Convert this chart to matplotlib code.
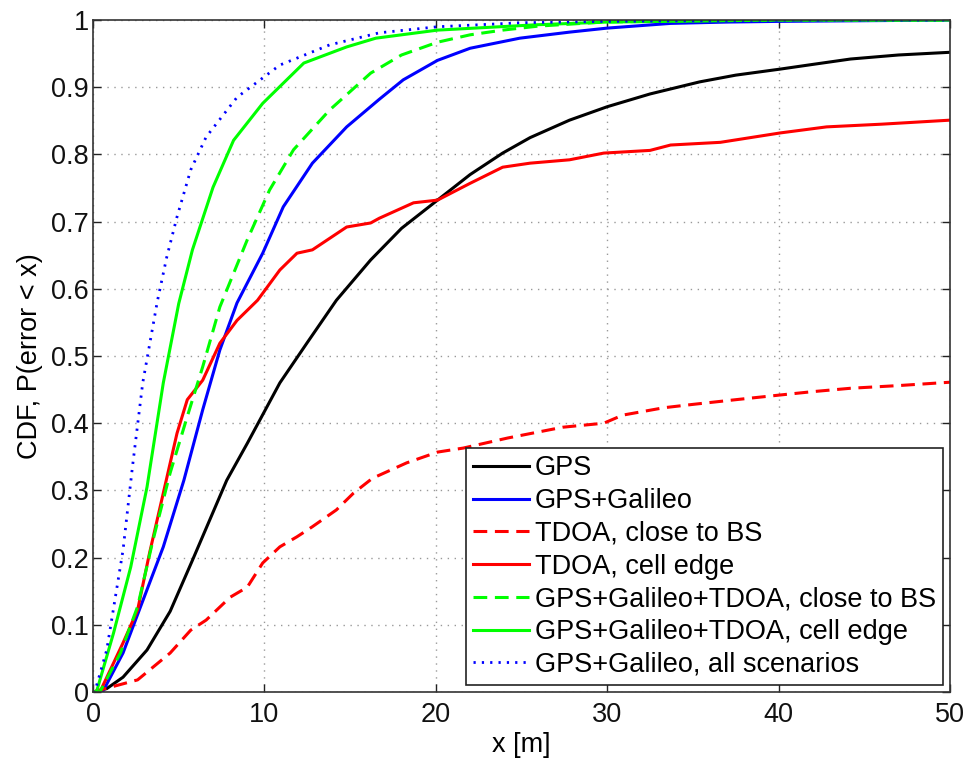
"""
CDF of positioning error: GPS / Galileo / TDOA combinations
"""

import matplotlib
matplotlib.use('Agg')
import matplotlib.pyplot as plt
from matplotlib import rcParams

rcParams['font.family'] = ['Liberation Sans', 'DejaVu Sans']
rcParams['font.size'] = 19.5

C_BLACK = '#000000'
C_BLUE = '#0000ff'
C_RED = '#ff0000'
C_GREEN = '#00ff00'

# ── data (x in metres, CDF value) ──
gps_x = [0, 0.8, 1.75, 3.15, 4.5, 5.8, 7.8, 9, 10.9, 12.5, 14.2, 16.2, 18, 20.1, 22,
         23.9, 25.5, 27.8, 30, 32.5, 35.4, 37.5, 40.1, 42, 44.2, 47, 50]
gps_y = [0, 0.005, 0.022, 0.0625, 0.12, 0.196, 0.315, 0.37, 0.46, 0.52, 0.583, 0.643,
         0.69, 0.732, 0.77, 0.802, 0.825, 0.851, 0.871, 0.89, 0.908, 0.918, 0.927,
         0.934, 0.942, 0.948, 0.952]

gal_x = [0, 0.6, 1.75, 2.7, 4.1, 5.3, 6.4, 7.4, 8.4, 9.9, 11.1, 12.8, 14.8, 16.7, 18.1,
         20.1, 22, 24.9, 27.8, 30, 33.7, 37, 40, 45, 50]
gal_y = [0, 0.002, 0.058, 0.122, 0.216, 0.315, 0.42, 0.509, 0.579, 0.653, 0.722, 0.787,
         0.841, 0.882, 0.911, 0.940, 0.958, 0.973, 0.982, 0.988, 0.995, 0.997, 0.998,
         0.999, 1.0]

tdoa_bs_x = [0, 1.0, 2.6, 4.5, 5.7, 6.6, 8.0, 9.0, 9.9, 10.9, 11.9, 12.8, 14.2, 15.2,
             16.3, 18.3, 20.1, 21.6, 24.2, 27.4, 29.8, 30.9, 33.3, 35, 37.5, 40.1, 42,
             44.2, 47, 50]
tdoa_bs_y = [0, 0.007, 0.018, 0.058, 0.092, 0.107, 0.141, 0.156, 0.192, 0.216, 0.231,
             0.246, 0.271, 0.296, 0.318, 0.341, 0.357, 0.363, 0.378, 0.394, 0.40, 0.412,
             0.423, 0.428, 0.435, 0.442, 0.447, 0.452, 0.456, 0.461]

tdoa_edge_x = [0, 0.4, 1.75, 2.6, 3.3, 4.1, 4.9, 5.5, 6.4, 7.4, 8.4, 9.6, 10.9, 11.9,
               12.8, 14.8, 16.2, 16.7, 18.7, 20.1, 22, 23.9, 25.5, 27.8, 29.8, 32.5,
               33.7, 36.6, 40.1, 42.8, 46, 50]
tdoa_edge_y = [0, 0, 0.073, 0.122, 0.207, 0.296, 0.385, 0.435, 0.464, 0.519, 0.553,
               0.583, 0.628, 0.653, 0.658, 0.692, 0.698, 0.705, 0.728, 0.732, 0.757,
               0.781, 0.787, 0.792, 0.802, 0.806, 0.814, 0.818, 0.832, 0.841, 0.845,
               0.851]

hyb_bs_x = [0, 0.4, 1.6, 2.6, 3.5, 4.5, 5.5, 6.4, 7.4, 9.0, 10.3, 11.7, 13.8, 16.2, 18,
            20.1, 22, 23.9, 26, 29.8, 35, 40, 50]
hyb_bs_y = [0, 0, 0.058, 0.127, 0.226, 0.326, 0.41, 0.484, 0.573, 0.673, 0.747, 0.807,
            0.866, 0.921, 0.948, 0.967, 0.978, 0.985, 0.991, 0.997, 0.999, 1.0, 1.0]

hyb_edge_x = [0, 0.2, 1.2, 2.2, 3.15, 4.1, 5.0, 5.8, 7.0, 8.2, 9.9, 12.3, 14.8, 16.5,
              20.1, 25.9, 30, 40, 50]
hyb_edge_y = [0, 0, 0.088, 0.186, 0.305, 0.46, 0.578, 0.658, 0.751, 0.821, 0.876,
              0.936, 0.96, 0.973, 0.985, 0.993, 0.997, 1.0, 1.0]

all_x = [0, 0.1, 0.8, 1.75, 2.3, 2.9, 3.75, 4.3, 4.9, 5.7, 6.6, 8.4, 10.9, 13.8, 16.7,
         20.1, 25, 30, 40, 50]
all_y = [0, 0, 0.0625, 0.211, 0.335, 0.46, 0.581, 0.647, 0.707, 0.777, 0.826, 0.885,
         0.933, 0.963, 0.981, 0.99, 0.996, 0.998, 1.0, 1.0]

x_ticks = [0, 10, 20, 30, 40, 50]
y_ticks = [0, 0.1, 0.2, 0.3, 0.4, 0.5, 0.6, 0.7, 0.8, 0.9, 1]
y_tick_labels = ['0', '0.1', '0.2', '0.3', '0.4', '0.5', '0.6', '0.7', '0.8', '0.9', '1']


fig = plt.figure(figsize=(9.68, 7.59), dpi=100)
ax = fig.add_axes([0.0961, 0.0883, 0.8853, 0.8853])

LW = 2.2
DASH = (0, (4.5, 2.5))
ax.plot(gps_x, gps_y, '-', color=C_BLACK, lw=LW, label='GPS')
ax.plot(gal_x, gal_y, '-', color=C_BLUE, lw=LW, label='GPS+Galileo')
ax.plot(tdoa_bs_x, tdoa_bs_y, linestyle=DASH, color=C_RED, lw=LW,
        label='TDOA, close to BS')
ax.plot(tdoa_edge_x, tdoa_edge_y, '-', color=C_RED, lw=LW, label='TDOA, cell edge')
ax.plot(hyb_bs_x, hyb_bs_y, linestyle=DASH, color=C_GREEN, lw=LW,
        label='GPS+Galileo+TDOA, close to BS')
ax.plot(hyb_edge_x, hyb_edge_y, '-', color=C_GREEN, lw=LW,
        label='GPS+Galileo+TDOA, cell edge')
ax.plot(all_x, all_y, linestyle=(0, (0.8, 2.2)), color=C_BLUE, lw=2,
        label='GPS+Galileo, all scenarios')

ax.set_xlim(0, 50)
ax.set_ylim(0, 1)
ax.set_xticks(x_ticks)
ax.set_yticks(y_ticks)
ax.set_yticklabels(y_tick_labels)
ax.tick_params(direction='in', top=True, right=True, length=6, width=1,
               colors='#222222', labelcolor='#111111')
ax.tick_params(axis='x', pad=7)
ax.tick_params(axis='y', pad=3)
ax.grid(True, linestyle=(0, (1, 4)), color='#999999', linewidth=1)
for sp in ax.spines.values():
    sp.set_color('#333333')
    sp.set_linewidth(1.2)

ax.set_xlabel('x [m]', labelpad=3)
ax.set_ylabel('CDF, P(error < x)', labelpad=6)

leg = ax.legend(loc='lower right', fancybox=False, framealpha=1, edgecolor='#222222',
                handlelength=2.05, handletextpad=0.22, labelspacing=0.25,
                borderpad=0.28, borderaxespad=0.24)
leg.get_frame().set_linewidth(1.2)

fig.savefig('out.png', dpi=100)
plt.close(fig)
